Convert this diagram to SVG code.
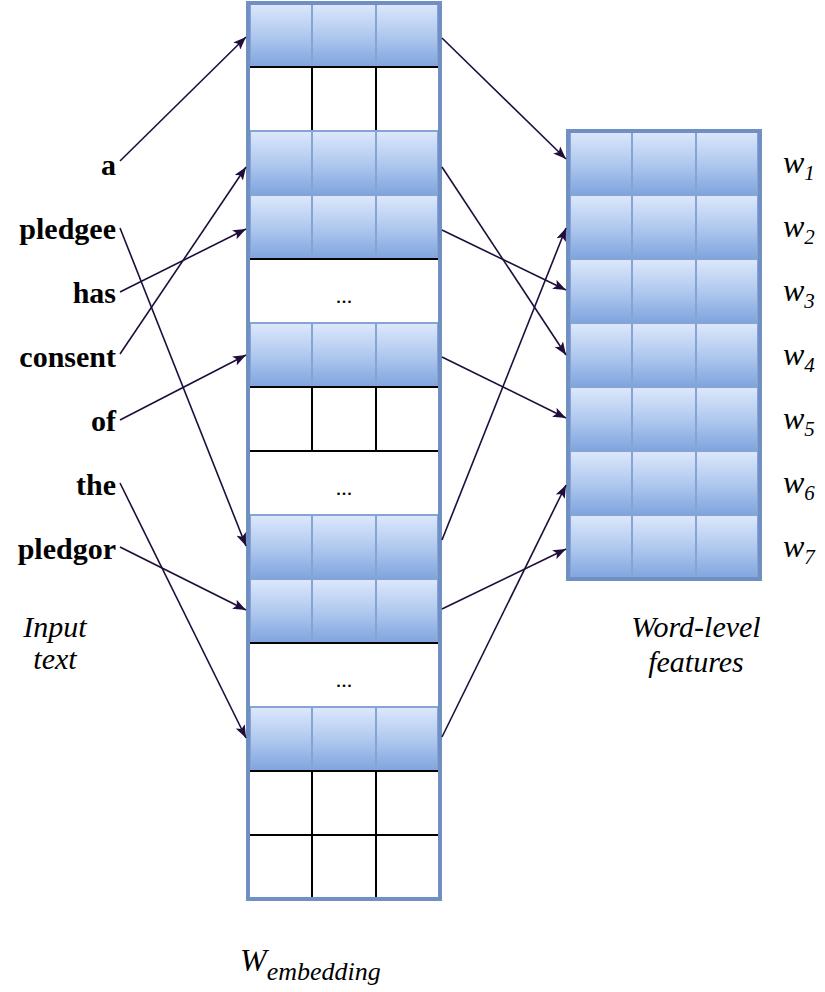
<svg xmlns="http://www.w3.org/2000/svg" width="825" height="992" viewBox="0 0 825 992">
  <defs>
    <linearGradient id="cellGrad" x1="0" y1="0" x2="0" y2="1">
      <stop offset="0" stop-color="#dde8fb"/>
      <stop offset="0.5" stop-color="#b1c9ef"/>
      <stop offset="1" stop-color="#7ea4de"/>
    </linearGradient>
    <marker id="arrow" markerUnits="userSpaceOnUse" markerWidth="14" markerHeight="10" refX="13" refY="5" orient="auto">
      <path d="M0,0 L13,5 L0,10 L3,5 Z" fill="#1f0d3c"/>
    </marker>
  </defs>

  <rect width="825" height="992" fill="#fff"/>

  <!-- embedding matrix: 14 rows of 64px, three columns -->
  <g id="embedding">
    <g fill="url(#cellGrad)" stroke="#86a3d4" stroke-width="2">
      <rect x="250" y="3" width="62" height="64"/><rect x="312" y="3" width="64" height="64"/><rect x="376" y="3" width="62" height="64"/>
      <rect x="250" y="131" width="62" height="64"/><rect x="312" y="131" width="64" height="64"/><rect x="376" y="131" width="62" height="64"/>
      <rect x="250" y="195" width="62" height="64"/><rect x="312" y="195" width="64" height="64"/><rect x="376" y="195" width="62" height="64"/>
      <rect x="250" y="323" width="62" height="64"/><rect x="312" y="323" width="64" height="64"/><rect x="376" y="323" width="62" height="64"/>
      <rect x="250" y="515" width="62" height="64"/><rect x="312" y="515" width="64" height="64"/><rect x="376" y="515" width="62" height="64"/>
      <rect x="250" y="579" width="62" height="64"/><rect x="312" y="579" width="64" height="64"/><rect x="376" y="579" width="62" height="64"/>
      <rect x="250" y="707" width="62" height="64"/><rect x="312" y="707" width="64" height="64"/><rect x="376" y="707" width="62" height="64"/>
    </g>
    <!-- black grid of the empty rows and the tops of the elided rows -->
    <path fill="none" stroke="#000" stroke-width="2" d="M250,67 H438 M312,67 V130 M376,67 V130
                          M250,259 H438
                          M250,387 H438 M312,387 V451 M376,387 V451 M250,451 H438
                          M250,643 H438
                          M250,771 H438 M250,835 H438 M312,771 V899 M376,771 V899"/>
    <rect x="248" y="3" width="192" height="896" fill="none" stroke="#7090c3" stroke-width="4"/>
  </g>

  <!-- word-level feature matrix: 7 rows -->
  <g id="features">
    <g fill="url(#cellGrad)" stroke="#86a3d4" stroke-width="2">
      <rect x="570" y="131" width="62" height="64"/><rect x="632" y="131" width="64" height="64"/><rect x="696" y="131" width="62" height="64"/>
      <rect x="570" y="195" width="62" height="64"/><rect x="632" y="195" width="64" height="64"/><rect x="696" y="195" width="62" height="64"/>
      <rect x="570" y="259" width="62" height="64"/><rect x="632" y="259" width="64" height="64"/><rect x="696" y="259" width="62" height="64"/>
      <rect x="570" y="323" width="62" height="64"/><rect x="632" y="323" width="64" height="64"/><rect x="696" y="323" width="62" height="64"/>
      <rect x="570" y="387" width="62" height="64"/><rect x="632" y="387" width="64" height="64"/><rect x="696" y="387" width="62" height="64"/>
      <rect x="570" y="451" width="62" height="64"/><rect x="632" y="451" width="64" height="64"/><rect x="696" y="451" width="62" height="64"/>
      <rect x="570" y="515" width="62" height="64"/><rect x="632" y="515" width="64" height="64"/><rect x="696" y="515" width="62" height="64"/>
    </g>
    <rect x="568" y="131" width="192" height="448" fill="none" stroke="#7090c3" stroke-width="4"/>
  </g>

  <!-- all text in a Times-metric serif -->
  <g font-family="Liberation Serif, Times New Roman, serif" fill="#000">
    <g id="ellipses" font-size="22" text-anchor="middle">
      <text x="344" y="303">...</text>
      <text x="344" y="495">...</text>
      <text x="344" y="687">...</text>
    </g>

    <g id="words" font-weight="bold" font-size="30" text-anchor="end">
      <text x="116" y="175">a</text>
      <text x="116" y="239">pledgee</text>
      <text x="116" y="303">has</text>
      <text x="116" y="367">consent</text>
      <text x="116" y="431">of</text>
      <text x="116" y="495">the</text>
      <text x="116" y="559">pledgor</text>
    </g>

    <g id="labels" font-style="italic" font-size="32">
      <text x="783" y="173">w<tspan dy="7" font-size="21">1</tspan></text>
      <text x="783" y="237">w<tspan dy="7" font-size="21">2</tspan></text>
      <text x="783" y="301">w<tspan dy="7" font-size="21">3</tspan></text>
      <text x="783" y="365">w<tspan dy="7" font-size="21">4</tspan></text>
      <text x="783" y="429">w<tspan dy="7" font-size="21">5</tspan></text>
      <text x="783" y="493">w<tspan dy="7" font-size="21">6</tspan></text>
      <text x="783" y="557">w<tspan dy="7" font-size="21">7</tspan></text>
    </g>

    <g id="captions" font-style="italic" font-size="30">
      <text x="55" y="637" text-anchor="middle">Input</text>
      <text x="55" y="669" text-anchor="middle">text</text>
      <text x="696" y="637" text-anchor="middle">Word-level</text>
      <text x="696" y="672" text-anchor="middle">features</text>
      <text x="240" y="971" font-size="32">W<tspan dy="9" font-size="26">embedding</tspan></text>
    </g>
  </g>

  <!-- lookup connectors -->
  <g id="connectors" stroke="#1f0d3c" stroke-width="1.6" fill="none" marker-end="url(#arrow)">
    <line x1="120" y1="161" x2="246" y2="37"/>
    <line x1="120" y1="228" x2="246" y2="546"/>
    <line x1="120" y1="292" x2="246" y2="229"/>
    <line x1="120" y1="354" x2="246" y2="167"/>
    <line x1="120" y1="420" x2="246" y2="355"/>
    <line x1="120" y1="483" x2="246" y2="738"/>
    <line x1="120" y1="547" x2="246" y2="610"/>

    <line x1="442" y1="38" x2="566" y2="159"/>
    <line x1="442" y1="167" x2="566" y2="355"/>
    <line x1="442" y1="230" x2="566" y2="290"/>
    <line x1="442" y1="357" x2="566" y2="418"/>
    <line x1="442" y1="540" x2="566" y2="228"/>
    <line x1="442" y1="609" x2="566" y2="549"/>
    <line x1="442" y1="737" x2="566" y2="485"/>
  </g>
</svg>
